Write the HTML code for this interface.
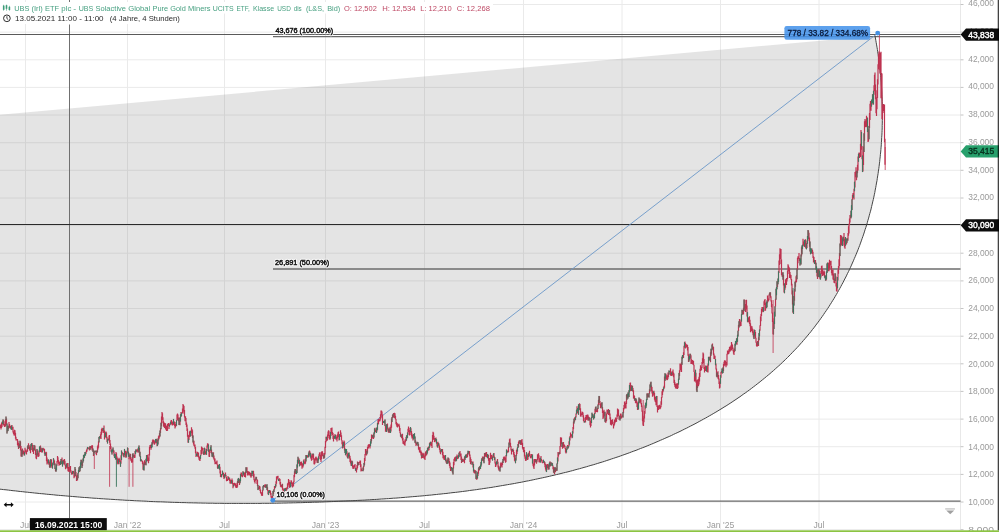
<!DOCTYPE html>
<html><head><meta charset="utf-8"><title>Chart</title>
<style>html,body{margin:0;padding:0;background:#fff;overflow:hidden}svg{display:block;will-change:transform;opacity:0.999;filter:blur(0.25px)}</style></head>
<body>
<svg width="999" height="532" viewBox="0 0 999 532" font-family="'Liberation Sans', sans-serif">
<rect width="999" height="532" fill="#fff"/>
<path d="M25.5 0V530M127.5 0V530M224.5 0V530M325.5 0V530M424.5 0V530M523.5 0V530M622.0 0V530M720.5 0V530M819.0 0V530M0 529.6H960.5M0 502.0H960.5M0 474.4H960.5M0 446.7H960.5M0 419.1H960.5M0 391.4H960.5M0 363.8H960.5M0 336.2H960.5M0 308.5H960.5M0 280.9H960.5M0 253.2H960.5M0 225.6H960.5M0 198.0H960.5M0 170.3H960.5M0 142.7H960.5M0 115.0H960.5M0 87.4H960.5M0 59.8H960.5M0 32.1H960.5M0 4.5H960.5" stroke="#eaeaea" stroke-width="1" fill="none"/>
<path d="M960.5 0V530" stroke="#e8e8e8" stroke-width="1" fill="none"/>
<path d="M960.5 529.6h3M960.5 502.0h3M960.5 474.4h3M960.5 446.7h3M960.5 419.1h3M960.5 391.4h3M960.5 363.8h3M960.5 336.2h3M960.5 308.5h3M960.5 280.9h3M960.5 253.2h3M960.5 225.6h3M960.5 198.0h3M960.5 170.3h3M960.5 142.7h3M960.5 115.0h3M960.5 87.4h3M960.5 59.8h3M960.5 32.1h3M960.5 4.5h3" stroke="#c4c4c4" stroke-width="1" fill="none"/>
<path d="M-20.3 486.6L-17.9 486.9L-15.5 487.2L-13.1 487.5L-10.7 487.8L-8.3 488.1L-6.0 488.4L-3.6 488.7L-1.2 489.0L1.2 489.3L3.6 489.6L6.0 489.8L8.4 490.1L10.7 490.4L13.1 490.7L15.5 490.9L17.9 491.2L20.3 491.5L22.7 491.7L25.0 492.0L27.4 492.2L29.8 492.5L32.2 492.7L34.6 493.0L37.0 493.2L39.3 493.5L41.7 493.7L44.1 493.9L46.5 494.2L48.8 494.4L51.2 494.6L53.6 494.8L56.0 495.1L58.4 495.3L60.7 495.5L63.1 495.7L65.5 495.9L67.9 496.1L70.2 496.3L72.6 496.5L75.0 496.7L77.4 496.9L79.7 497.1L82.1 497.3L84.5 497.5L86.9 497.6L89.2 497.8L91.6 498.0L94.0 498.2L96.4 498.3L98.7 498.5L101.1 498.7L103.5 498.8L105.9 499.0L108.2 499.1L110.6 499.3L113.0 499.4L115.3 499.6L117.7 499.7L120.1 499.9L122.5 500.0L124.8 500.2L127.2 500.3L129.6 500.4L132.0 500.5L134.3 500.7L136.7 500.8L139.1 500.9L141.4 501.0L143.8 501.1L146.2 501.2L148.5 501.4L150.9 501.5L153.3 501.6L155.7 501.7L158.0 501.8L160.4 501.8L162.8 501.9L165.1 502.0L167.5 502.1L169.9 502.2L172.3 502.3L174.6 502.4L177.0 502.4L179.4 502.5L181.7 502.6L184.1 502.6L186.5 502.7L188.8 502.8L191.2 502.8L193.6 502.9L196.0 502.9L198.3 503.0L200.7 503.0L203.1 503.1L205.4 503.1L207.8 503.2L210.2 503.2L212.6 503.2L214.9 503.3L217.3 503.3L219.7 503.3L222.0 503.3L224.4 503.4L226.8 503.4L229.2 503.4L231.5 503.4L233.9 503.4L236.3 503.4L238.6 503.4L241.0 503.4L243.4 503.4L245.8 503.4L248.1 503.4L250.5 503.4L252.9 503.4L255.3 503.4L257.6 503.4L260.0 503.4L262.4 503.3L264.7 503.3L267.1 503.3L269.5 503.3L271.9 503.2L274.2 503.2L276.6 503.2L279.0 503.1L281.4 503.1L283.8 503.0L286.1 503.0L288.5 502.9L290.9 502.9L293.3 502.8L295.6 502.8L298.0 502.7L300.4 502.7L302.8 502.6L305.2 502.5L307.5 502.5L309.9 502.4L312.3 502.3L314.7 502.2L317.1 502.2L319.4 502.1L321.8 502.0L324.2 501.9L326.6 501.8L329.0 501.7L331.4 501.6L333.7 501.5L336.1 501.4L338.5 501.3L340.9 501.2L343.3 501.1L345.7 501.0L348.1 500.9L350.4 500.8L352.8 500.7L355.2 500.6L357.6 500.4L360.0 500.3L362.4 500.2L364.8 500.1L367.2 499.9L369.5 499.8L371.9 499.6L374.3 499.5L376.7 499.4L379.1 499.2L381.5 499.0L383.9 498.9L386.3 498.7L388.6 498.6L391.0 498.4L393.4 498.2L395.8 498.1L398.2 497.9L400.6 497.7L403.0 497.5L405.4 497.3L407.8 497.1L410.1 496.9L412.5 496.7L414.9 496.5L417.3 496.3L419.7 496.1L422.1 495.9L424.4 495.7L426.8 495.4L429.2 495.2L431.6 495.0L434.0 494.7L436.4 494.5L438.7 494.2L441.1 494.0L443.5 493.7L445.9 493.5L448.3 493.2L450.6 492.9L453.0 492.6L455.4 492.4L457.8 492.1L460.1 491.8L462.5 491.5L464.9 491.2L467.3 490.9L469.6 490.5L472.0 490.2L474.4 489.9L476.7 489.6L479.1 489.2L481.5 488.9L483.8 488.5L486.2 488.2L488.5 487.8L490.9 487.5L493.3 487.1L495.6 486.7L498.0 486.3L500.3 485.9L502.7 485.5L505.0 485.1L507.4 484.7L509.7 484.3L512.1 483.9L514.4 483.5L516.8 483.0L519.1 482.6L521.5 482.2L523.8 481.7L526.1 481.2L528.5 480.8L530.8 480.3L533.2 479.8L535.5 479.3L537.8 478.8L540.2 478.3L542.5 477.8L544.8 477.3L547.1 476.8L549.4 476.3L551.8 475.7L554.1 475.2L556.4 474.6L558.7 474.1L561.0 473.5L563.3 472.9L565.6 472.4L568.0 471.8L570.3 471.2L572.6 470.6L574.9 469.9L577.2 469.3L579.5 468.7L581.7 468.1L584.0 467.4L586.3 466.8L588.6 466.1L590.9 465.4L593.2 464.8L595.5 464.1L597.7 463.4L600.0 462.7L602.3 462.0L604.6 461.3L606.8 460.5L609.1 459.8L611.3 459.0L613.6 458.3L615.9 457.5L618.1 456.8L620.4 456.0L622.6 455.2L624.9 454.4L627.1 453.6L629.3 452.8L631.6 451.9L633.8 451.1L636.1 450.3L638.3 449.4L640.5 448.5L642.7 447.7L645.0 446.8L647.2 445.9L649.4 445.0L651.6 444.1L653.8 443.2L656.0 442.2L658.2 441.3L660.4 440.3L662.6 439.4L664.8 438.4L667.0 437.4L669.2 436.5L671.4 435.5L673.5 434.4L675.7 433.4L677.9 432.4L680.0 431.4L682.2 430.3L684.3 429.2L686.5 428.2L688.6 427.1L690.7 426.0L692.9 424.9L695.0 423.8L697.1 422.7L699.2 421.5L701.3 420.4L703.4 419.2L705.5 418.1L707.6 416.9L709.7 415.7L711.8 414.5L713.8 413.3L715.9 412.1L717.9 410.9L720.0 409.6L722.0 408.4L724.0 407.1L726.1 405.9L728.1 404.6L730.1 403.3L732.1 402.0L734.0 400.7L736.0 399.4L738.0 398.0L740.0 396.7L741.9 395.3L743.8 393.9L745.8 392.6L747.7 391.2L749.6 389.8L751.5 388.4L753.4 386.9L755.3 385.5L757.2 384.0L759.0 382.6L760.9 381.1L762.7 379.6L764.6 378.1L766.4 376.6L768.2 375.1L770.0 373.6L771.8 372.0L773.6 370.5L775.3 368.9L777.1 367.3L778.8 365.8L780.6 364.2L782.3 362.5L784.0 360.9L785.7 359.3L787.4 357.6L789.0 356.0L790.7 354.3L792.3 352.6L793.9 350.9L795.6 349.2L797.2 347.5L798.8 345.8L800.3 344.0L801.9 342.3L803.4 340.5L805.0 338.7L806.5 336.9L808.0 335.1L809.5 333.3L811.0 331.5L812.4 329.6L813.9 327.8L815.3 325.9L816.7 324.0L818.1 322.2L819.5 320.3L820.9 318.3L822.3 316.4L823.6 314.5L824.9 312.5L826.3 310.6L827.6 308.6L828.9 306.7L830.1 304.7L831.4 302.7L832.6 300.7L833.9 298.7L835.1 296.6L836.3 294.6L837.5 292.5L838.6 290.5L839.8 288.4L840.9 286.4L842.0 284.3L843.2 282.2L844.2 280.1L845.3 278.0L846.4 275.9L847.4 273.7L848.5 271.6L849.5 269.4L850.5 267.3L851.5 265.1L852.4 263.0L853.4 260.8L854.3 258.6L855.3 256.4L856.2 254.2L857.1 252.0L858.0 249.8L858.8 247.6L859.7 245.4L860.5 243.1L861.3 240.9L862.1 238.6L862.9 236.4L863.7 234.1L864.4 231.9L865.1 229.6L865.9 227.3L866.6 225.0L867.3 222.7L867.9 220.4L868.6 218.1L869.2 215.8L869.8 213.5L870.5 211.2L871.1 208.9L871.6 206.5L872.2 204.2L872.7 201.9L873.3 199.5L873.8 197.2L874.3 194.8L874.8 192.5L875.2 190.1L875.7 187.7L876.1 185.4L876.5 183.0L877.0 180.6L877.3 178.3L877.7 175.9L878.1 173.5L878.4 171.1L878.8 168.7L879.1 166.3L879.4 163.9L879.7 161.6L879.9 159.2L880.2 156.8L880.4 154.4L880.7 152.0L880.9 149.6L881.1 147.2L881.3 144.8L881.4 142.4L881.6 140.0L881.7 137.5L881.9 135.1L882.0 132.7L882.1 130.3L882.2 127.9L882.2 125.5L882.3 123.1L882.3 120.7L882.4 118.3L882.4 115.9L882.4 113.5L882.4 111.1L882.4 108.7L882.3 106.3L882.3 103.9L882.2 101.5L882.1 99.1L882.0 96.7L881.9 94.3L881.8 91.9L881.7 89.6L881.5 87.2L881.3 84.8L881.2 82.4L881.0 80.0L880.8 77.7L880.6 75.3L880.3 72.9L880.1 70.6L879.9 68.2L879.6 65.9L879.3 63.5L879.0 61.2L878.7 58.8L878.4 56.5L878.1 54.2L877.7 51.8L877.4 49.5L877.0 47.2L876.6 44.9L876.2 42.6L875.8 40.3L875.4 38.0L875.0 35.7L876.0 35.7L-20.0 116.6Z" fill="#6e6e6e" fill-opacity="0.19" stroke="none"/>
<rect x="0" y="2" width="493" height="11.5" fill="#fff"/>
<rect x="0" y="13" width="183" height="11" fill="#fff"/>
<path d="M69.5 24.5V518" stroke="#707070" stroke-width="1" fill="none"/>
<path d="M69.5 0V2" stroke="#707070" stroke-width="1" fill="none"/>
<path d="M0 34.5H960.5" stroke="#474747" stroke-width="0.9" fill="none"/>
<path d="M273 36.7H960.5" stroke="#686868" stroke-width="1.3" fill="none"/>
<path d="M0 224.5H960.5" stroke="#2a2a2a" stroke-width="1.0" fill="none"/>
<path d="M273 269.0H960.5" stroke="#6c6c6c" stroke-width="1.3" fill="none"/>
<path d="M273 501.2H960.5" stroke="#686868" stroke-width="1.3" fill="none"/>
<path d="M-20.3 486.6L-17.9 486.9L-15.5 487.2L-13.1 487.5L-10.7 487.8L-8.3 488.1L-6.0 488.4L-3.6 488.7L-1.2 489.0L1.2 489.3L3.6 489.6L6.0 489.8L8.4 490.1L10.7 490.4L13.1 490.7L15.5 490.9L17.9 491.2L20.3 491.5L22.7 491.7L25.0 492.0L27.4 492.2L29.8 492.5L32.2 492.7L34.6 493.0L37.0 493.2L39.3 493.5L41.7 493.7L44.1 493.9L46.5 494.2L48.8 494.4L51.2 494.6L53.6 494.8L56.0 495.1L58.4 495.3L60.7 495.5L63.1 495.7L65.5 495.9L67.9 496.1L70.2 496.3L72.6 496.5L75.0 496.7L77.4 496.9L79.7 497.1L82.1 497.3L84.5 497.5L86.9 497.6L89.2 497.8L91.6 498.0L94.0 498.2L96.4 498.3L98.7 498.5L101.1 498.7L103.5 498.8L105.9 499.0L108.2 499.1L110.6 499.3L113.0 499.4L115.3 499.6L117.7 499.7L120.1 499.9L122.5 500.0L124.8 500.2L127.2 500.3L129.6 500.4L132.0 500.5L134.3 500.7L136.7 500.8L139.1 500.9L141.4 501.0L143.8 501.1L146.2 501.2L148.5 501.4L150.9 501.5L153.3 501.6L155.7 501.7L158.0 501.8L160.4 501.8L162.8 501.9L165.1 502.0L167.5 502.1L169.9 502.2L172.3 502.3L174.6 502.4L177.0 502.4L179.4 502.5L181.7 502.6L184.1 502.6L186.5 502.7L188.8 502.8L191.2 502.8L193.6 502.9L196.0 502.9L198.3 503.0L200.7 503.0L203.1 503.1L205.4 503.1L207.8 503.2L210.2 503.2L212.6 503.2L214.9 503.3L217.3 503.3L219.7 503.3L222.0 503.3L224.4 503.4L226.8 503.4L229.2 503.4L231.5 503.4L233.9 503.4L236.3 503.4L238.6 503.4L241.0 503.4L243.4 503.4L245.8 503.4L248.1 503.4L250.5 503.4L252.9 503.4L255.3 503.4L257.6 503.4L260.0 503.4L262.4 503.3L264.7 503.3L267.1 503.3L269.5 503.3L271.9 503.2L274.2 503.2L276.6 503.2L279.0 503.1L281.4 503.1L283.8 503.0L286.1 503.0L288.5 502.9L290.9 502.9L293.3 502.8L295.6 502.8L298.0 502.7L300.4 502.7L302.8 502.6L305.2 502.5L307.5 502.5L309.9 502.4L312.3 502.3L314.7 502.2L317.1 502.2L319.4 502.1L321.8 502.0L324.2 501.9L326.6 501.8L329.0 501.7L331.4 501.6L333.7 501.5L336.1 501.4L338.5 501.3L340.9 501.2L343.3 501.1L345.7 501.0L348.1 500.9L350.4 500.8L352.8 500.7L355.2 500.6L357.6 500.4L360.0 500.3L362.4 500.2L364.8 500.1L367.2 499.9L369.5 499.8L371.9 499.6L374.3 499.5L376.7 499.4L379.1 499.2L381.5 499.0L383.9 498.9L386.3 498.7L388.6 498.6L391.0 498.4L393.4 498.2L395.8 498.1L398.2 497.9L400.6 497.7L403.0 497.5L405.4 497.3L407.8 497.1L410.1 496.9L412.5 496.7L414.9 496.5L417.3 496.3L419.7 496.1L422.1 495.9L424.4 495.7L426.8 495.4L429.2 495.2L431.6 495.0L434.0 494.7L436.4 494.5L438.7 494.2L441.1 494.0L443.5 493.7L445.9 493.5L448.3 493.2L450.6 492.9L453.0 492.6L455.4 492.4L457.8 492.1L460.1 491.8L462.5 491.5L464.9 491.2L467.3 490.9L469.6 490.5L472.0 490.2L474.4 489.9L476.7 489.6L479.1 489.2L481.5 488.9L483.8 488.5L486.2 488.2L488.5 487.8L490.9 487.5L493.3 487.1L495.6 486.7L498.0 486.3L500.3 485.9L502.7 485.5L505.0 485.1L507.4 484.7L509.7 484.3L512.1 483.9L514.4 483.5L516.8 483.0L519.1 482.6L521.5 482.2L523.8 481.7L526.1 481.2L528.5 480.8L530.8 480.3L533.2 479.8L535.5 479.3L537.8 478.8L540.2 478.3L542.5 477.8L544.8 477.3L547.1 476.8L549.4 476.3L551.8 475.7L554.1 475.2L556.4 474.6L558.7 474.1L561.0 473.5L563.3 472.9L565.6 472.4L568.0 471.8L570.3 471.2L572.6 470.6L574.9 469.9L577.2 469.3L579.5 468.7L581.7 468.1L584.0 467.4L586.3 466.8L588.6 466.1L590.9 465.4L593.2 464.8L595.5 464.1L597.7 463.4L600.0 462.7L602.3 462.0L604.6 461.3L606.8 460.5L609.1 459.8L611.3 459.0L613.6 458.3L615.9 457.5L618.1 456.8L620.4 456.0L622.6 455.2L624.9 454.4L627.1 453.6L629.3 452.8L631.6 451.9L633.8 451.1L636.1 450.3L638.3 449.4L640.5 448.5L642.7 447.7L645.0 446.8L647.2 445.9L649.4 445.0L651.6 444.1L653.8 443.2L656.0 442.2L658.2 441.3L660.4 440.3L662.6 439.4L664.8 438.4L667.0 437.4L669.2 436.5L671.4 435.5L673.5 434.4L675.7 433.4L677.9 432.4L680.0 431.4L682.2 430.3L684.3 429.2L686.5 428.2L688.6 427.1L690.7 426.0L692.9 424.9L695.0 423.8L697.1 422.7L699.2 421.5L701.3 420.4L703.4 419.2L705.5 418.1L707.6 416.9L709.7 415.7L711.8 414.5L713.8 413.3L715.9 412.1L717.9 410.9L720.0 409.6L722.0 408.4L724.0 407.1L726.1 405.9L728.1 404.6L730.1 403.3L732.1 402.0L734.0 400.7L736.0 399.4L738.0 398.0L740.0 396.7L741.9 395.3L743.8 393.9L745.8 392.6L747.7 391.2L749.6 389.8L751.5 388.4L753.4 386.9L755.3 385.5L757.2 384.0L759.0 382.6L760.9 381.1L762.7 379.6L764.6 378.1L766.4 376.6L768.2 375.1L770.0 373.6L771.8 372.0L773.6 370.5L775.3 368.9L777.1 367.3L778.8 365.8L780.6 364.2L782.3 362.5L784.0 360.9L785.7 359.3L787.4 357.6L789.0 356.0L790.7 354.3L792.3 352.6L793.9 350.9L795.6 349.2L797.2 347.5L798.8 345.8L800.3 344.0L801.9 342.3L803.4 340.5L805.0 338.7L806.5 336.9L808.0 335.1L809.5 333.3L811.0 331.5L812.4 329.6L813.9 327.8L815.3 325.9L816.7 324.0L818.1 322.2L819.5 320.3L820.9 318.3L822.3 316.4L823.6 314.5L824.9 312.5L826.3 310.6L827.6 308.6L828.9 306.7L830.1 304.7L831.4 302.7L832.6 300.7L833.9 298.7L835.1 296.6L836.3 294.6L837.5 292.5L838.6 290.5L839.8 288.4L840.9 286.4L842.0 284.3L843.2 282.2L844.2 280.1L845.3 278.0L846.4 275.9L847.4 273.7L848.5 271.6L849.5 269.4L850.5 267.3L851.5 265.1L852.4 263.0L853.4 260.8L854.3 258.6L855.3 256.4L856.2 254.2L857.1 252.0L858.0 249.8L858.8 247.6L859.7 245.4L860.5 243.1L861.3 240.9L862.1 238.6L862.9 236.4L863.7 234.1L864.4 231.9L865.1 229.6L865.9 227.3L866.6 225.0L867.3 222.7L867.9 220.4L868.6 218.1L869.2 215.8L869.8 213.5L870.5 211.2L871.1 208.9L871.6 206.5L872.2 204.2L872.7 201.9L873.3 199.5L873.8 197.2L874.3 194.8L874.8 192.5L875.2 190.1L875.7 187.7L876.1 185.4L876.5 183.0L877.0 180.6L877.3 178.3L877.7 175.9L878.1 173.5L878.4 171.1L878.8 168.7L879.1 166.3L879.4 163.9L879.7 161.6L879.9 159.2L880.2 156.8L880.4 154.4L880.7 152.0L880.9 149.6L881.1 147.2L881.3 144.8L881.4 142.4L881.6 140.0L881.7 137.5L881.9 135.1L882.0 132.7L882.1 130.3L882.2 127.9L882.2 125.5L882.3 123.1L882.3 120.7L882.4 118.3L882.4 115.9L882.4 113.5L882.4 111.1L882.4 108.7L882.3 106.3L882.3 103.9L882.2 101.5L882.1 99.1L882.0 96.7L881.9 94.3L881.8 91.9L881.7 89.6L881.5 87.2L881.3 84.8L881.2 82.4L881.0 80.0L880.8 77.7L880.6 75.3L880.3 72.9L880.1 70.6L879.9 68.2L879.6 65.9L879.3 63.5L879.0 61.2L878.7 58.8L878.4 56.5L878.1 54.2L877.7 51.8L877.4 49.5L877.0 47.2L876.6 44.9L876.2 42.6L875.8 40.3L875.4 38.0L875.0 35.7" stroke="#454545" stroke-width="1.0" fill="none" stroke-linejoin="round"/>
<path d="M272.8 500.3L877.7 33.2" stroke="#6b97c8" stroke-width="0.9" fill="none"/>
<path d="M0.5 424.5V428.1M1.0 426.2V429.6M1.5 422.8V428.1M2.0 421.7V427.0M3.5 419.7V425.5M4.0 421.2V425.0M4.5 423.9V427.0M5.0 424.5V426.9M5.5 419.3V426.0M6.5 418.5V425.1M7.5 427.1V431.4M8.5 426.1V429.2M9.0 422.0V427.8M9.5 424.0V426.6M10.0 425.4V428.2M10.5 425.9V428.1M12.0 425.1V428.9M12.5 426.7V429.7M13.0 426.7V432.4M13.5 431.2V434.0M14.0 431.3V435.4M14.5 429.7V432.1M15.0 430.2V435.8M15.5 432.8V438.7M16.0 436.8V440.5M16.5 439.6V440.5M17.0 438.9V440.1M17.5 439.0V445.0M18.0 440.8V446.5M18.5 442.8V448.9M19.5 443.8V447.4M20.5 441.6V450.4M21.0 445.9V456.5M21.5 453.2V456.8M22.5 448.6V454.6M23.0 450.0V451.7M23.5 451.1V454.1M24.0 451.6V455.6M25.0 447.8V453.8M25.5 449.8V452.2M26.0 449.4V451.7M26.5 450.7V454.5M27.0 451.2V451.9M27.5 446.2V451.6M28.5 443.3V446.0M29.0 445.0V448.7M29.5 446.6V450.4M30.0 448.4V450.8M30.5 445.6V453.2M32.0 442.9V446.1M32.5 444.8V451.4M33.0 447.8V451.9M33.5 448.8V454.1M34.5 445.8V447.7M35.0 445.5V450.6M35.5 449.6V455.1M36.0 453.2V458.6M36.5 453.8V459.3M37.5 450.4V453.9M38.0 452.7V457.1M38.5 453.2V456.7M39.0 450.6V456.2M40.5 445.6V452.1M41.0 447.6V450.9M41.5 448.3V452.6M42.0 449.4V452.6M43.0 447.7V450.3M43.5 448.2V450.3M44.0 448.7V450.8M44.5 448.7V453.7M46.0 451.7V455.8M46.5 452.3V461.2M47.0 457.5V464.6M47.5 460.6V463.0M48.0 459.4V463.4M49.0 460.2V464.9M49.5 461.8V467.2M51.0 461.3V462.2M51.5 459.3V466.6M52.0 464.2V468.1M54.0 459.4V463.1M54.5 460.6V465.0M55.5 467.5V471.3M57.0 460.9V465.7M57.5 456.1V462.2M58.0 457.3V462.1M58.5 460.1V463.7M59.0 461.6V465.7M59.5 461.8V464.9M60.0 462.1V465.0M61.5 458.9V460.6M62.0 457.5V464.1M63.5 459.7V463.6M64.0 460.5V461.8M64.5 459.0V464.6M65.0 460.7V465.6M65.5 464.7V469.3M66.0 466.5V467.1M67.0 463.8V468.6M67.5 463.1V466.0M68.0 463.1V471.3M68.5 468.8V471.8M69.0 467.1V471.7M69.5 467.5V472.0M70.0 466.7V469.9M70.5 465.9V471.6M71.0 470.2V473.1M71.5 472.3V474.4M72.0 472.9V474.8M73.0 470.8V473.6M73.5 471.0V473.3M74.0 472.5V478.2M74.5 474.0V477.3M75.5 468.9V474.3M76.0 471.9V476.4M76.5 475.5V481.1M77.5 474.5V480.6M79.5 468.4V472.1M81.5 459.7V465.3M82.5 462.2V465.9M84.0 454.8V458.2M86.0 451.5V453.9M86.5 449.7V452.3M87.0 448.4V451.5M88.0 447.5V448.4M88.5 447.8V448.7M89.0 447.3V449.6M89.5 448.4V450.4M90.5 446.9V448.7M91.0 446.1V447.6M91.5 445.9V448.3M92.0 445.1V450.5M92.5 445.4V450.2M93.5 450.3V455.9M94.5 451.3V452.7M95.5 450.9V451.5M96.0 450.8V454.2M96.5 450.4V455.2M97.5 446.3V452.2M98.0 444.7V449.6M98.5 441.3V447.7M100.0 436.4V438.4M100.5 434.2V437.7M101.0 431.8V438.9M101.5 429.0V434.8M102.0 427.7V430.1M102.5 428.6V431.1M103.0 428.2V432.7M104.0 425.4V433.1M104.5 430.6V439.4M106.0 431.4V435.7M106.5 432.6V438.3M107.0 436.8V442.1M108.5 438.4V440.6M109.0 435.6V438.9M109.5 434.9V442.8M110.0 440.1V445.0M110.5 443.6V448.9M111.0 446.3V451.7M113.5 449.7V452.8M114.0 450.4V456.2M115.0 456.6V457.8M116.0 452.1V454.9M116.5 453.2V458.3M117.0 456.6V459.3M117.5 458.3V463.8M118.0 459.1V464.6M119.0 457.7V462.1M119.5 458.7V461.3M120.0 460.4V464.3M121.0 455.3V463.8M122.0 451.7V453.7M122.5 452.5V453.8M123.0 453.0V455.4M123.5 454.6V456.5M125.0 451.4V452.6M125.5 450.7V456.7M126.0 452.2V457.9M127.0 450.7V454.4M128.0 448.1V452.5M129.0 453.0V459.3M129.5 454.8V457.8M130.5 453.8V459.4M131.0 457.2V460.9M131.5 460.4V462.3M132.0 459.1V462.9M132.5 454.1V461.9M133.5 454.9V457.1M134.0 454.8V456.4M134.5 454.9V458.0M135.0 450.9V457.8M136.5 450.1V451.0M137.0 449.9V451.6M137.5 449.3V451.7M138.0 448.2V452.8M139.5 448.0V455.7M141.0 458.9V461.0M142.0 460.2V462.0M142.5 460.9V464.2M143.0 461.7V469.7M144.5 460.3V464.9M145.0 461.9V464.7M145.5 462.3V464.4M147.0 454.9V459.7M147.5 454.7V461.3M148.0 458.3V460.8M148.5 457.6V463.3M149.0 454.0V461.0M149.5 446.8V455.5M150.0 445.1V447.9M150.5 445.7V448.1M151.0 444.5V449.7M152.5 440.2V444.6M153.0 439.3V442.3M153.5 441.1V442.7M154.0 439.9V444.2M154.5 443.3V444.8M155.0 441.3V443.7M156.5 438.8V443.3M157.0 440.1V446.2M158.5 436.2V440.6M159.0 435.3V439.3M159.5 432.9V437.5M160.5 428.1V433.1M161.5 416.5V426.3M162.0 411.9V419.9M162.5 413.2V417.4M163.0 417.2V423.2M163.5 421.3V426.8M164.0 422.3V426.4M164.5 423.9V428.0M165.0 422.9V426.8M165.5 423.5V429.0M166.0 425.9V430.0M166.5 426.8V430.9M167.0 425.2V431.0M167.5 423.8V430.8M168.0 423.8V425.8M168.5 423.1V426.0M169.0 425.2V429.0M170.0 423.3V425.3M171.0 420.3V423.0M171.5 420.0V424.1M172.0 421.3V425.3M172.5 421.9V425.5M173.0 422.2V424.7M174.0 420.9V425.0M174.5 422.2V426.1M175.0 422.0V428.6M175.5 423.9V427.2M176.0 424.5V426.3M177.0 414.5V420.5M177.5 413.4V417.3M178.0 414.4V420.5M178.5 417.5V421.3M179.5 422.7V423.6M180.0 417.1V425.2M181.0 412.0V416.7M182.0 412.7V413.9M182.5 408.4V413.0M183.0 404.0V411.4M183.5 405.1V408.6M184.0 406.1V413.7M184.5 409.9V417.6M185.0 416.7V421.3M185.5 416.2V421.3M186.0 418.1V425.0M186.5 422.6V427.1M187.0 424.6V430.9M187.5 428.5V436.7M188.0 435.3V442.8M189.0 434.8V440.0M189.5 431.5V436.9M190.0 430.7V434.2M191.0 432.9V436.1M191.5 427.3V433.1M192.0 429.0V433.2M192.5 430.3V437.9M193.5 440.5V444.6M194.0 440.8V446.1M194.5 444.4V446.8M195.0 444.6V448.7M195.5 447.0V453.2M196.0 451.6V457.0M197.5 451.7V456.7M198.0 453.8V456.0M198.5 452.6V457.6M199.0 456.2V459.7M199.5 456.8V460.5M200.0 457.6V460.9M201.0 450.1V455.6M201.5 446.4V454.0M202.0 447.2V449.0M202.5 447.8V450.5M203.0 448.0V453.7M203.5 451.8V454.8M205.0 448.5V454.3M205.5 451.2V454.4M206.0 453.2V454.7M207.0 445.5V451.1M207.5 443.2V447.6M208.0 443.6V445.6M209.0 450.1V456.8M209.5 450.6V457.0M210.0 449.0V453.1M211.5 449.4V453.7M212.5 455.0V456.6M213.5 452.2V458.6M214.0 455.6V459.8M214.5 458.3V461.6M215.0 458.4V464.3M215.5 462.0V463.5M216.0 461.7V464.0M216.5 461.6V462.6M217.0 460.5V464.8M217.5 464.4V468.2M219.0 464.4V466.9M220.0 466.8V473.5M220.5 470.5V477.0M221.0 474.3V477.2M222.0 474.0V475.4M223.0 472.4V474.7M223.5 472.7V477.3M224.0 475.9V479.1M225.5 472.6V476.2M226.0 474.9V477.6M226.5 477.1V481.3M227.0 478.7V480.7M227.5 478.7V480.9M228.0 476.0V479.9M229.0 477.5V479.8M229.5 477.4V481.1M230.0 478.7V483.4M230.5 481.0V483.8M231.0 480.1V483.3M232.0 478.5V481.1M232.5 480.2V484.3M233.0 483.3V488.2M234.0 483.1V485.1M234.5 482.7V484.4M235.0 483.0V486.1M235.5 483.7V486.7M236.0 485.6V488.0M236.5 484.9V487.5M237.0 482.7V488.1M237.5 481.0V486.7M239.0 479.2V483.0M239.5 481.7V485.0M241.0 472.6V476.3M241.5 472.5V475.4M242.0 474.7V476.7M242.5 474.7V477.2M244.0 472.2V475.5M244.5 472.6V477.0M245.0 474.0V476.8M245.5 471.6V477.6M246.5 467.5V470.6M247.0 467.2V471.7M247.5 471.0V475.6M248.0 472.4V475.5M248.5 471.2V474.2M249.0 471.7V474.7M249.5 471.7V475.2M250.0 472.5V475.6M250.5 473.2V476.5M251.0 473.1V477.7M251.5 473.5V476.6M253.0 471.1V472.6M253.5 470.8V477.5M254.0 473.8V480.2M254.5 479.3V482.1M255.0 480.3V483.6M255.5 478.5V480.7M256.5 477.0V479.2M257.0 479.1V484.0M257.5 480.1V486.3M258.5 487.3V488.0M259.0 487.9V489.2M259.5 485.8V489.1M260.0 486.6V491.1M260.5 489.5V492.9M261.0 491.9V494.1M261.5 493.2V495.4M262.0 492.6V495.9M262.5 489.9V495.8M264.0 485.2V487.3M264.5 485.6V486.9M265.0 484.2V487.6M265.5 484.2V487.4M266.5 485.0V486.3M267.5 487.3V490.7M268.0 490.2V494.3M269.0 490.1V493.1M270.0 490.3V493.2M270.5 490.8V494.7M271.0 492.9V497.6M271.5 496.3V498.8M272.0 496.8V497.8M272.5 496.1V498.5M273.5 490.2V494.1M274.5 486.0V489.5M275.0 486.5V488.3M276.0 481.3V486.5M276.5 476.5V483.7M277.0 476.2V478.5M277.5 476.0V478.5M278.0 475.8V479.8M279.0 479.0V480.8M279.5 478.2V480.9M280.0 479.1V484.4M280.5 482.0V486.7M281.0 484.9V487.3M281.5 485.0V487.4M282.5 483.7V489.7M283.0 488.0V493.0M283.5 489.3V492.5M284.0 490.4V492.8M285.0 488.1V490.9M286.0 487.7V489.9M286.5 488.3V490.8M287.0 487.3V489.3M287.5 483.5V488.6M288.0 482.8V486.7M288.5 478.9V483.3M289.0 480.1V484.7M289.5 481.9V487.8M290.0 485.6V486.5M291.0 480.3V484.2M291.5 480.5V483.0M292.0 482.0V486.2M292.5 482.9V487.6M293.0 485.2V486.2M293.5 481.5V486.5M294.0 475.0V482.5M294.5 471.3V477.3M295.5 468.9V473.7M296.0 471.9V474.0M298.5 458.2V463.2M299.0 458.4V463.9M300.0 461.8V465.8M300.5 462.6V465.2M301.0 462.1V463.9M301.5 461.4V465.6M302.0 463.2V468.7M302.5 466.0V467.0M303.0 463.3V467.4M304.0 459.2V462.9M304.5 461.5V463.7M305.0 462.1V464.2M305.5 458.6V463.5M307.0 455.0V457.0M307.5 455.5V457.6M308.0 455.5V457.8M309.5 450.4V454.7M310.0 451.4V455.1M311.0 453.4V459.3M311.5 457.5V460.7M312.0 455.6V459.9M312.5 454.1V457.7M313.5 453.7V459.4M314.0 458.2V464.2M314.5 458.6V464.4M315.0 458.9V463.6M315.5 457.2V460.4M316.0 456.4V459.9M316.5 457.6V460.6M317.0 457.7V462.7M317.5 460.8V462.9M319.0 454.2V459.0M319.5 452.5V456.2M320.0 452.3V455.3M320.5 454.8V460.1M321.0 455.9V462.0M321.5 452.1V459.3M322.0 450.9V456.4M322.5 451.5V456.0M323.0 453.0V455.9M323.5 455.2V458.8M324.5 453.0V457.7M325.0 446.7V454.6M325.5 441.0V447.9M326.0 436.7V442.3M327.0 437.1V441.1M327.5 434.4V440.1M328.0 431.5V435.9M328.5 430.2V432.2M329.0 430.7V438.2M329.5 434.9V439.4M330.0 435.7V439.7M331.0 428.1V436.0M331.5 430.1V431.3M332.0 427.5V433.7M332.5 432.1V434.9M333.0 433.0V439.1M333.5 436.3V441.5M334.0 435.5V438.8M335.0 434.1V437.8M336.0 435.3V439.8M336.5 438.5V439.5M337.0 436.7V441.5M337.5 434.2V438.5M338.0 432.3V437.0M338.5 431.5V437.1M339.0 435.4V440.6M340.0 434.2V436.8M340.5 430.3V435.3M341.0 432.5V437.1M341.5 435.2V440.4M342.0 439.9V444.2M342.5 441.4V448.6M344.0 440.4V445.0M344.5 441.4V450.6M347.0 451.2V456.7M347.5 453.6V458.1M349.5 454.8V458.4M350.0 456.1V462.0M350.5 458.5V463.5M351.0 460.5V465.7M352.5 461.6V467.4M353.0 465.4V468.9M353.5 466.6V468.7M354.0 465.2V467.2M354.5 465.1V466.6M355.0 464.0V468.8M356.0 467.8V470.3M356.5 468.3V472.5M357.0 465.0V469.8M357.5 461.5V468.2M358.5 462.9V464.5M359.0 462.0V465.0M359.5 461.8V463.1M360.0 460.5V463.1M360.5 460.6V467.0M361.0 464.2V471.6M361.5 468.6V471.1M362.0 469.9V470.9M362.5 470.3V470.7M363.5 466.1V470.2M364.5 457.9V464.9M365.0 453.9V461.1M365.5 448.9V455.3M366.0 449.0V452.7M366.5 450.9V455.6M367.5 447.0V452.8M368.0 445.2V448.7M368.5 444.3V448.2M369.0 444.5V446.9M369.5 444.3V446.5M370.0 444.1V448.4M371.5 434.5V441.2M372.0 435.5V438.4M373.0 434.8V438.4M373.5 434.2V439.0M375.0 427.8V432.1M375.5 429.4V432.2M376.0 430.8V432.1M377.0 427.4V431.4M378.0 419.4V424.8M378.5 419.1V424.0M379.0 419.8V420.7M379.5 419.2V421.6M380.0 417.1V421.3M380.5 414.3V419.6M381.0 410.4V415.5M381.5 410.4V412.9M382.0 411.5V418.2M382.5 414.4V424.9M383.0 422.0V422.8M384.5 420.4V423.5M385.5 425.2V431.7M386.0 428.8V431.6M387.5 423.5V429.6M388.0 427.5V431.6M388.5 430.8V432.8M389.5 428.3V432.5M390.0 426.8V433.0M391.0 424.6V431.4M391.5 418.5V427.8M392.5 415.1V417.9M393.5 412.9V415.1M394.0 414.4V418.0M394.5 412.7V418.2M395.0 413.3V416.0M395.5 415.8V419.5M396.0 418.9V424.2M396.5 422.1V425.6M397.0 423.7V427.1M397.5 423.3V427.6M398.0 424.6V426.8M398.5 424.4V426.3M399.0 423.8V426.3M399.5 425.4V431.0M400.0 427.9V433.2M400.5 432.6V436.6M401.5 434.8V438.3M402.0 434.8V437.5M402.5 433.7V440.4M403.0 437.8V443.8M403.5 441.1V444.1M404.0 441.6V444.5M404.5 442.6V445.0M405.0 439.4V445.8M405.5 439.3V442.3M406.0 437.1V441.0M407.0 435.1V438.6M408.0 428.8V434.8M408.5 426.5V431.3M409.0 428.0V432.1M409.5 429.9V435.6M410.0 430.8V435.0M411.0 428.2V432.6M411.5 431.1V436.5M412.0 433.4V438.4M412.5 436.1V438.1M413.0 434.9V440.5M414.0 435.2V436.6M415.5 440.3V443.6M416.0 443.0V446.1M416.5 443.4V444.9M417.5 441.9V444.3M418.5 444.1V449.5M419.0 447.3V450.3M419.5 449.2V452.5M420.0 447.1V452.0M420.5 450.8V453.3M421.0 450.4V455.5M421.5 452.0V458.4M422.5 453.5V457.9M423.0 452.7V456.1M423.5 453.6V457.8M424.0 455.5V458.6M424.5 457.4V458.9M425.0 453.3V460.1M425.5 452.1V456.5M426.0 450.9V454.3M426.5 451.9V455.4M428.0 446.9V451.1M429.0 446.1V450.3M430.0 442.3V446.5M431.0 442.7V444.9M431.5 442.2V446.1M432.0 441.6V448.1M432.5 434.9V442.1M433.0 431.7V439.9M433.5 432.4V438.2M434.0 435.7V439.6M434.5 438.0V442.1M435.0 439.0V442.2M436.0 437.6V441.1M437.0 442.2V446.6M438.0 441.8V445.7M439.0 443.5V447.8M439.5 445.6V449.7M440.0 448.1V452.5M440.5 450.0V454.3M442.0 449.7V451.6M442.5 449.0V455.3M443.0 451.8V458.2M443.5 455.5V458.5M444.0 454.9V459.7M444.5 456.0V459.9M445.0 456.7V459.3M446.0 458.5V462.5M446.5 460.2V463.6M447.5 459.5V463.3M448.5 458.0V460.8M449.0 458.4V462.4M449.5 461.0V466.0M450.0 462.4V468.3M450.5 466.2V470.9M451.0 467.4V469.8M452.5 471.0V472.8M453.5 462.0V468.5M454.0 458.9V465.2M454.5 457.7V461.0M455.0 457.1V459.1M455.5 456.4V461.4M457.0 454.5V459.2M457.5 455.7V458.5M458.0 455.9V459.0M459.5 451.9V455.6M460.0 451.1V455.3M460.5 453.8V456.4M461.0 453.5V460.0M461.5 456.6V462.9M462.5 458.8V461.9M463.0 458.7V461.8M463.5 459.6V461.4M464.0 459.8V461.8M464.5 456.7V463.3M466.5 454.5V457.2M467.0 454.1V457.7M467.5 453.0V456.9M469.0 451.1V453.5M469.5 451.1V456.3M470.0 454.5V461.9M470.5 457.2V464.2M471.0 459.0V462.3M471.5 461.2V462.6M472.5 461.9V464.1M473.0 461.5V467.6M474.0 469.4V473.0M474.5 469.8V473.4M475.5 470.3V473.5M476.5 476.5V479.7M477.0 475.6V479.5M478.0 471.5V476.0M478.5 468.3V473.8M479.5 466.6V470.5M482.5 456.6V459.3M483.0 457.1V461.0M483.5 458.9V461.6M484.5 453.0V459.0M485.5 452.4V456.8M486.0 453.5V454.9M486.5 451.9V457.3M487.0 454.4V456.0M488.5 454.8V460.8M489.0 458.1V464.9M489.5 458.5V464.7M490.0 458.1V462.7M490.5 452.8V459.2M491.0 454.7V456.6M491.5 454.9V459.2M492.0 456.4V458.9M493.0 454.6V458.0M494.0 452.9V457.5M495.0 457.2V463.6M495.5 462.3V467.1M496.0 463.2V466.4M497.5 459.0V463.7M498.0 461.7V467.6M498.5 465.4V469.4M499.0 467.7V470.8M499.5 467.8V470.4M500.5 463.3V468.1M501.0 462.2V465.2M501.5 463.5V466.6M502.0 463.0V467.4M502.5 461.2V464.9M503.5 457.3V460.7M504.0 456.5V458.6M504.5 456.5V460.0M505.0 457.5V461.2M505.5 457.5V462.8M506.0 455.1V461.9M507.0 449.8V453.2M508.0 451.1V452.5M508.5 446.7V452.2M509.5 439.2V444.4M510.0 438.4V444.9M510.5 442.8V447.1M511.0 446.1V450.4M511.5 449.0V454.5M512.0 450.6V452.0M513.0 448.5V451.6M513.5 450.0V454.7M514.0 452.0V457.2M514.5 454.3V460.8M515.0 458.1V461.6M516.5 450.0V455.8M517.0 448.6V454.0M518.5 441.8V447.0M519.0 440.4V442.8M519.5 440.5V443.0M520.5 441.6V444.7M521.0 440.4V445.1M521.5 439.9V442.9M522.0 439.1V444.8M522.5 442.7V448.4M523.0 447.3V449.8M523.5 446.9V451.9M524.0 447.1V452.5M524.5 450.1V456.5M525.0 454.8V458.8M525.5 457.8V460.8M526.0 456.5V461.1M527.0 453.6V459.3M527.5 454.4V459.9M528.0 456.1V459.5M529.0 452.6V454.3M529.5 450.7V456.2M530.0 454.1V456.5M530.5 456.0V457.9M531.0 455.8V458.6M531.5 454.0V457.4M533.0 459.3V465.8M533.5 465.4V467.6M534.0 463.4V469.1M534.5 459.0V465.5M535.0 459.3V462.4M535.5 458.9V461.4M536.5 460.2V463.8M537.0 458.9V462.3M537.5 454.3V460.2M538.0 455.9V457.1M538.5 453.3V458.6M539.0 455.2V462.3M539.5 460.2V462.4M540.0 458.2V462.2M541.0 456.0V459.6M541.5 459.0V461.0M542.0 460.0V462.6M542.5 461.7V463.2M543.0 461.7V462.6M544.5 461.5V464.6M545.0 462.2V467.2M545.5 464.0V469.6M546.0 467.8V471.3M547.0 463.9V467.6M547.5 464.0V468.1M548.0 465.0V469.8M548.5 466.5V468.0M550.0 461.3V466.8M550.5 464.3V466.0M552.0 462.7V464.2M553.0 465.4V469.2M553.5 467.0V472.5M554.5 467.8V474.3M555.5 467.7V472.2M556.0 469.5V471.0M556.5 468.3V470.8M558.0 452.0V461.4M558.5 452.5V456.6M559.5 451.7V453.8M560.0 446.0V454.1M560.5 437.3V446.8M561.0 438.4V440.3M561.5 437.6V444.1M562.5 444.1V448.7M563.0 443.1V447.9M563.5 442.1V447.4M564.0 444.3V445.6M564.5 444.7V447.0M565.0 445.7V448.7M565.5 448.1V452.6M566.0 449.6V453.4M567.5 445.0V448.8M569.0 441.3V446.6M570.0 435.9V440.6M570.5 432.4V437.6M571.0 435.0V436.4M571.5 434.4V436.2M572.0 434.0V438.3M573.0 426.9V433.6M573.5 421.6V429.2M574.5 417.7V421.8M575.0 417.1V420.4M576.0 413.5V417.6M577.0 406.3V413.6M578.0 409.8V413.3M579.5 403.3V406.4M580.0 404.0V410.3M580.5 408.2V416.4M581.0 414.2V416.8M581.5 413.3V415.2M582.0 411.5V415.1M582.5 411.9V414.7M583.0 412.4V417.3M583.5 415.2V420.9M584.0 417.8V422.4M585.5 416.9V422.4M586.0 415.0V419.9M586.5 416.7V417.6M587.0 414.8V419.7M587.5 414.6V418.9M588.0 414.7V420.7M588.5 416.4V418.5M589.5 417.2V420.3M590.0 418.1V425.2M590.5 423.1V427.5M591.0 420.7V425.9M593.0 414.0V417.5M594.0 416.9V418.3M595.0 408.8V413.9M595.5 406.9V412.5M596.5 409.5V411.9M597.0 410.1V411.5M597.5 407.9V412.3M598.5 399.7V405.2M599.5 396.2V402.1M600.0 400.9V405.2M600.5 403.6V408.2M601.0 404.5V406.8M601.5 402.8V407.3M602.5 406.9V413.0M603.0 411.0V419.1M603.5 414.1V417.8M604.0 409.8V416.3M604.5 412.2V413.9M605.5 418.3V422.7M606.0 417.9V422.5M606.5 413.5V421.1M607.0 409.6V414.3M607.5 410.1V412.6M608.0 410.8V413.8M608.5 409.1V414.9M609.5 409.9V415.4M610.0 413.6V419.2M610.5 417.2V424.4M611.0 422.3V424.9M611.5 420.1V425.5M612.0 419.7V423.5M612.5 419.2V424.1M613.0 421.8V424.4M613.5 424.0V428.5M614.0 424.6V426.2M614.5 419.5V424.7M615.0 420.3V423.3M615.5 417.5V421.5M616.0 419.0V421.9M616.5 418.3V421.7M617.0 414.5V418.9M617.5 408.5V416.7M618.0 409.3V413.0M618.5 409.5V416.1M619.0 415.2V419.8M619.5 418.7V419.5M620.5 413.5V419.1M621.0 413.4V418.5M621.5 415.8V418.6M622.0 416.3V417.1M622.5 414.4V417.2M623.5 407.9V413.2M624.0 405.0V409.6M624.5 401.4V405.6M625.0 403.1V408.4M625.5 405.3V408.3M626.0 401.2V408.6M626.5 394.7V404.0M627.5 394.0V397.3M630.0 382.7V391.3M630.5 382.6V388.9M631.0 385.1V391.1M632.5 386.0V388.1M633.0 387.9V392.0M633.5 390.3V398.4M634.0 395.1V398.8M634.5 395.9V400.7M635.5 398.7V403.2M636.5 399.5V403.3M637.0 401.5V406.9M637.5 402.8V410.1M639.5 398.9V402.6M640.0 398.5V402.4M640.5 400.1V402.7M641.0 399.2V404.3M641.5 403.0V407.0M642.0 405.4V411.7M642.5 410.5V421.2M643.0 417.7V425.4M643.5 418.9V426.0M644.0 415.8V422.3M644.5 411.1V418.6M645.0 405.3V413.8M647.5 393.2V397.5M648.0 394.2V395.9M648.5 394.6V397.1M649.5 389.3V393.7M650.5 382.4V387.5M651.5 385.5V391.3M652.0 387.1V393.5M652.5 390.5V396.8M653.0 392.1V394.8M654.0 390.7V396.3M654.5 392.8V399.8M655.0 396.8V401.6M655.5 400.6V402.2M656.0 396.6V405.2M657.0 396.1V407.0M657.5 405.6V412.6M658.0 405.6V410.1M658.5 406.2V410.1M659.0 405.3V408.7M659.5 404.7V408.5M660.0 406.8V409.3M660.5 405.8V408.4M661.0 401.3V407.3M661.5 397.0V404.8M662.0 391.3V397.8M662.5 389.0V394.9M663.0 389.7V392.3M664.0 385.7V389.0M664.5 376.4V387.7M666.0 373.7V379.4M666.5 375.9V378.6M667.0 375.3V380.3M667.5 376.9V380.0M668.0 372.6V378.7M668.5 372.7V376.9M670.0 371.0V371.8M670.5 368.3V375.2M671.0 373.6V376.1M672.0 371.3V376.1M672.5 372.4V374.4M673.0 369.5V375.1M673.5 372.5V377.2M674.0 373.5V383.1M674.5 379.8V385.3M675.0 382.2V386.9M675.5 384.3V388.4M676.0 384.1V387.3M676.5 384.1V388.7M677.0 383.0V386.5M677.5 384.5V389.1M678.0 383.5V388.1M679.5 370.3V375.9M680.0 363.5V371.8M680.5 365.6V368.8M681.0 363.8V369.9M681.5 362.3V371.9M683.5 352.2V357.9M684.0 345.7V355.0M685.0 341.6V346.2M685.5 343.0V348.4M686.0 344.0V347.7M686.5 345.7V347.2M687.0 344.6V346.3M687.5 344.9V350.5M688.0 347.1V355.8M688.5 354.2V362.1M690.5 353.7V358.5M691.0 355.3V363.9M691.5 359.2V363.7M692.0 361.0V364.0M692.5 360.1V361.7M693.0 360.7V364.7M693.5 360.7V365.3M694.0 364.7V371.9M694.5 371.8V381.6M695.0 373.5V381.5M696.0 372.7V382.7M696.5 380.3V390.6M697.5 379.4V388.1M698.0 380.9V384.1M698.5 378.7V386.2M699.0 376.8V384.6M699.5 373.1V381.6M700.0 368.8V377.1M700.5 365.2V371.1M701.0 367.3V370.5M701.5 366.7V370.2M702.0 361.9V368.1M702.5 358.3V363.9M703.0 352.4V362.9M703.5 353.5V361.2M704.0 358.9V369.1M704.5 367.4V372.6M705.0 367.1V370.0M705.5 365.6V370.9M706.0 366.3V368.3M707.0 365.5V370.3M707.5 366.6V372.3M708.0 363.4V372.4M709.0 356.5V359.9M709.5 358.2V359.8M710.5 352.2V362.2M711.5 348.7V353.7M712.5 343.4V347.2M713.0 346.2V349.3M713.5 346.9V355.3M714.0 353.4V359.1M714.5 355.5V358.9M715.0 355.8V359.2M716.0 363.6V369.6M716.5 368.5V376.6M717.5 372.3V377.0M718.0 371.3V378.7M718.5 375.0V379.6M719.0 378.4V384.0M719.5 382.6V388.6M720.0 381.4V387.8M721.0 372.1V377.8M721.5 370.9V373.2M723.5 363.9V371.1M724.0 361.8V366.3M724.5 360.2V363.9M725.0 360.5V365.4M725.5 360.4V365.3M726.0 362.4V367.3M726.5 362.0V365.6M727.0 353.8V365.6M727.5 350.4V354.5M728.0 350.4V353.3M728.5 351.5V354.2M729.0 348.9V353.6M729.5 347.0V351.7M730.0 346.4V351.8M730.5 346.5V350.2M731.0 345.3V350.8M731.5 342.1V350.1M732.0 343.7V348.6M732.5 344.7V348.9M733.0 347.5V351.3M733.5 350.1V353.8M734.0 349.8V355.1M734.5 348.5V351.9M737.0 338.0V344.8M738.5 324.7V330.9M739.5 318.9V324.1M740.0 322.4V326.6M740.5 321.8V325.3M741.0 319.5V325.9M742.5 309.9V314.4M743.0 312.5V313.1M743.5 307.8V314.6M744.5 299.4V308.8M745.0 304.0V309.4M745.5 303.9V312.1M746.0 300.0V309.4M746.5 299.7V307.8M747.0 305.5V316.4M748.0 317.8V322.6M748.5 319.3V322.0M749.0 317.1V321.5M749.5 316.3V324.0M750.0 319.8V326.3M750.5 323.3V332.2M751.0 325.7V330.1M751.5 329.4V331.3M752.0 326.3V330.1M752.5 328.6V332.7M753.0 329.3V335.3M753.5 331.4V337.5M755.0 330.1V336.4M755.5 332.1V338.6M756.0 337.8V342.7M756.5 342.6V346.2M757.0 342.3V346.7M757.5 341.0V346.3M758.5 337.3V345.9M760.0 325.2V330.8M760.5 316.4V326.0M761.0 314.0V321.2M761.5 309.0V316.1M762.0 307.0V310.1M762.5 307.0V311.4M763.0 308.1V312.2M764.0 301.3V311.1M764.5 299.9V303.1M765.0 299.0V304.9M765.5 302.8V310.8M766.0 305.9V308.6M767.5 295.4V303.3M768.0 298.6V299.8M768.5 298.8V301.6M769.0 294.6V300.2M769.5 292.8V295.4M770.5 292.2V297.8M771.0 296.2V301.4M771.5 300.2V307.2M772.0 304.1V313.5M772.5 312.4V322.0M773.0 318.2V334.2M775.5 298.8V306.5M777.5 281.6V287.0M779.0 260.6V272.9M779.5 254.2V265.1M780.0 248.2V259.1M780.5 249.1V253.7M781.0 249.1V264.1M781.5 259.6V274.9M782.0 272.8V276.5M782.5 272.5V277.1M783.5 274.7V285.6M784.0 283.4V292.4M785.0 284.0V289.8M785.5 279.3V287.8M786.0 279.2V282.2M786.5 277.9V285.0M787.0 278.3V281.5M787.5 270.5V279.2M788.0 264.2V274.0M788.5 265.5V271.2M789.0 267.0V269.1M789.5 268.3V278.1M790.0 271.9V276.7M790.5 274.5V278.2M791.0 275.0V279.8M791.5 279.0V285.4M792.0 283.8V294.6M792.5 290.6V304.5M793.0 303.8V313.0M794.5 289.1V300.8M795.5 280.8V286.7M796.0 276.2V282.8M796.5 275.1V281.9M797.5 257.7V270.2M798.0 256.2V263.2M798.5 256.3V258.2M799.0 252.9V258.9M799.5 258.0V261.1M801.5 247.3V256.6M803.0 238.7V245.7M803.5 241.4V244.1M804.0 242.3V246.4M805.5 239.2V247.8M806.0 242.9V248.7M807.0 240.6V248.1M808.5 230.6V235.7M809.0 232.7V240.7M809.5 237.5V246.7M811.0 250.0V252.5M812.0 248.4V253.0M812.5 250.0V254.0M813.0 251.7V258.0M813.5 256.2V262.4M814.0 257.1V262.6M815.0 260.3V262.6M815.5 260.1V264.6M817.0 269.8V276.5M817.5 273.3V278.9M818.5 269.4V276.5M819.0 268.9V277.2M820.0 276.1V279.3M821.0 270.8V277.6M821.5 265.9V274.0M822.0 265.6V272.8M822.5 269.3V276.0M823.0 271.6V273.1M823.5 272.6V275.2M824.0 270.6V275.5M824.5 271.4V277.4M826.0 275.3V280.7M828.0 262.5V269.4M828.5 269.2V271.2M829.0 262.8V271.2M829.5 259.7V268.4M830.0 260.9V265.0M830.5 261.0V265.3M831.0 260.7V268.8M831.5 266.0V273.2M832.0 270.7V275.6M832.5 269.9V271.6M833.0 269.4V279.5M833.5 273.6V279.9M834.0 278.4V282.8M834.5 280.1V283.3M835.5 273.6V278.7M836.0 276.6V286.6M836.5 282.8V291.0M837.0 287.3V291.8M838.0 269.7V280.4M838.5 266.1V273.8M839.0 259.2V268.0M839.5 252.9V266.0M840.5 234.9V246.6M841.0 235.6V239.2M841.5 235.4V245.5M842.0 239.3V243.9M843.5 236.8V238.7M844.0 232.9V245.4M844.5 238.7V247.5M845.0 240.8V248.7M846.0 238.8V241.8M846.5 239.7V244.4M848.0 233.1V240.7M848.5 226.3V235.8M849.0 223.7V233.5M849.5 218.6V225.3M850.0 215.1V222.6M850.5 214.7V217.4M852.5 194.7V199.7M853.0 193.0V196.0M854.0 188.8V199.4M855.0 172.0V187.6M855.5 171.6V177.2M856.0 167.3V173.8M856.5 170.9V180.3M857.5 164.8V173.2M858.0 156.5V170.6M859.0 152.4V155.5M859.5 152.7V158.0M860.0 154.6V155.8M860.5 143.8V157.0M861.0 129.9V149.8M862.0 146.1V159.3M863.0 159.7V171.4M863.5 146.5V164.9M864.5 121.3V140.7M865.0 119.0V123.1M865.5 122.2V127.1M866.0 120.6V127.2M866.5 115.8V125.5M867.0 116.9V126.7M868.0 129.3V142.0M868.5 134.6V141.5M869.5 113.1V128.1M870.0 103.8V119.9M870.5 100.9V109.0M871.0 101.6V110.7M872.0 99.2V104.8M874.0 85.3V94.8M874.5 74.8V87.2M875.0 72.4V91.2M875.5 84.5V99.2M876.0 97.3V113.2M876.5 102.4V115.9M877.0 90.3V109.3M877.5 79.2V98.1M878.0 64.3V84.6M878.5 54.3V69.3M879.0 51.4V59.5M879.5 52.4V66.6M880.0 60.6V73.5M880.5 52.8V73.6M881.0 51.8V98.2M881.5 72.9V94.5M882.0 73.5V119.1M882.5 104.9V119.6M883.0 105.5V109.2M883.5 104.1V111.0M884.0 105.6V113.0M884.5 104.5V142.2M885.0 138.8V164.8M2.5 421.6V423.8M3.0 419.4V424.2M6.0 416.6V420.0M7.0 423.5V433.6M8.0 425.7V431.1M11.0 427.7V429.3M11.5 425.5V429.8M19.0 445.9V448.1M20.0 440.7V445.8M22.0 449.7V456.8M24.5 452.3V455.4M28.0 445.2V448.9M31.0 444.0V450.0M31.5 443.3V446.3M34.0 444.9V450.5M37.0 448.9V455.5M39.5 446.7V452.2M40.0 446.2V450.0M42.5 448.4V452.2M45.0 453.0V455.8M45.5 452.5V454.2M48.5 459.4V463.5M50.0 463.4V467.9M50.5 459.2V466.6M52.5 463.5V468.6M53.0 462.6V465.3M53.5 458.2V463.3M55.0 463.4V469.0M56.0 468.1V471.7M56.5 464.5V470.2M60.5 461.2V464.8M61.0 459.0V464.2M62.5 461.4V466.6M63.0 460.5V464.4M66.5 463.6V467.4M72.5 471.0V474.0M75.0 467.1V476.0M77.0 478.2V479.7M78.0 472.9V478.2M78.5 469.9V473.2M79.0 467.3V471.4M80.0 466.0V471.2M80.5 462.5V468.4M81.0 459.7V464.5M82.0 461.6V467.9M83.0 458.6V462.6M83.5 454.9V460.9M84.5 454.3V457.7M85.0 452.0V455.1M85.5 452.4V455.6M87.5 446.9V449.3M90.0 445.9V450.0M93.0 448.6V451.9M94.0 451.5V455.0M95.0 450.6V452.1M97.0 450.4V452.7M99.0 437.0V442.4M99.5 436.3V438.5M103.5 427.9V430.5M105.0 435.9V437.6M105.5 432.4V437.1M107.5 439.7V443.5M108.0 438.8V440.4M111.5 450.5V452.4M112.0 449.6V454.6M112.5 449.5V451.6M113.0 447.4V451.5M114.5 453.7V458.0M115.5 454.2V459.4M118.5 459.8V463.7M120.5 461.7V466.8M121.5 450.5V460.1M124.0 453.3V457.3M124.5 448.9V454.7M126.5 452.9V456.8M127.5 447.5V452.5M128.5 451.7V456.8M130.0 454.5V456.8M133.0 453.2V458.2M135.5 450.6V454.1M136.0 449.3V452.3M138.5 447.0V450.3M139.0 445.5V452.3M140.0 451.8V456.7M140.5 456.2V461.3M141.5 459.8V460.7M143.5 466.7V469.9M144.0 463.5V470.4M146.0 458.8V465.3M146.5 455.0V461.5M151.5 444.8V448.1M152.0 442.2V447.3M155.5 438.9V441.9M156.0 439.1V442.7M157.5 442.2V445.9M158.0 438.5V444.4M160.0 430.5V436.4M161.0 422.7V429.3M169.5 424.6V426.6M170.5 421.7V424.4M173.5 418.9V423.8M176.5 420.2V425.7M179.0 418.1V425.1M180.5 414.3V421.5M181.5 412.8V416.3M188.5 438.8V442.7M190.5 430.8V436.5M193.0 435.4V442.4M196.5 453.7V456.0M197.0 453.7V455.4M200.5 454.9V458.8M204.0 451.4V454.9M204.5 447.7V452.7M206.5 449.0V454.8M208.5 444.6V451.7M210.5 447.3V449.9M211.0 445.3V451.0M212.0 452.1V456.7M213.0 453.3V457.2M218.0 466.8V468.9M218.5 465.2V467.9M219.5 464.1V469.5M221.5 474.0V477.2M222.5 470.7V474.8M224.5 474.6V478.1M225.0 474.0V476.1M228.5 477.0V478.9M231.5 480.3V483.5M233.5 484.7V486.4M238.0 478.8V483.0M238.5 477.9V481.1M240.0 478.7V483.2M240.5 474.1V481.2M243.0 471.3V475.5M243.5 472.3V474.2M246.0 467.2V473.1M252.0 470.8V476.0M252.5 471.0V473.7M256.0 476.8V479.8M258.0 484.9V490.1M263.0 486.2V490.4M263.5 485.1V486.7M266.0 485.2V488.0M267.0 484.2V489.9M268.5 491.0V495.1M269.5 490.1V492.4M273.0 491.0V496.1M274.0 489.2V491.9M275.5 484.3V487.5M278.5 478.9V481.1M282.0 484.5V485.7M284.5 488.7V491.2M285.5 488.5V490.9M290.5 482.4V487.2M295.0 469.3V473.2M296.5 470.6V474.1M297.0 464.4V473.0M297.5 459.9V467.4M298.0 456.8V462.2M299.5 460.1V466.3M303.5 460.6V465.4M306.0 455.1V461.4M306.5 456.1V458.3M308.5 453.6V457.1M309.0 451.5V456.4M310.5 453.1V457.6M313.0 453.4V454.9M318.0 458.7V463.1M318.5 456.4V460.3M324.0 454.7V458.5M326.5 436.8V439.2M330.5 431.9V438.5M334.5 436.1V438.7M335.5 435.1V438.6M339.5 434.2V440.0M343.0 444.8V447.8M343.5 442.2V446.2M345.0 448.6V453.0M345.5 449.0V455.2M346.0 449.6V450.7M346.5 449.0V453.7M348.0 455.6V458.6M348.5 453.1V456.5M349.0 452.6V455.8M351.5 462.8V466.0M352.0 460.8V463.9M355.5 468.1V470.7M358.0 462.3V465.4M363.0 467.6V471.2M364.0 462.9V466.6M367.0 450.7V454.2M370.5 441.4V446.2M371.0 439.1V443.6M372.5 435.3V436.8M374.0 432.5V437.6M374.5 428.4V433.6M376.5 427.7V433.0M377.5 422.9V429.8M383.5 420.9V423.0M384.0 421.1V423.0M385.0 419.4V426.1M386.5 424.2V432.0M387.0 425.3V428.5M389.0 428.7V432.2M390.5 429.5V432.9M392.0 417.1V422.1M393.0 413.9V417.1M401.0 434.2V437.1M406.5 435.5V440.4M407.5 432.5V437.9M410.5 427.1V431.9M413.5 434.0V439.3M414.5 433.2V438.4M415.0 436.5V442.8M417.0 441.8V444.3M418.0 442.3V446.0M422.0 454.9V456.8M427.0 450.1V454.3M427.5 448.0V452.6M428.5 447.2V448.7M429.5 443.3V447.8M430.5 441.8V443.8M435.5 438.3V440.5M436.5 439.2V443.6M437.5 445.0V447.5M438.5 443.1V445.4M441.0 449.7V452.3M441.5 449.0V451.2M445.5 455.1V461.1M447.0 460.8V464.1M448.0 457.5V463.5M451.5 467.1V469.4M452.0 468.1V471.3M453.0 467.6V474.5M456.0 459.6V461.2M456.5 456.4V460.6M458.5 455.2V458.1M459.0 452.8V456.9M462.0 459.8V461.5M465.0 455.9V459.9M465.5 454.9V457.8M466.0 454.4V457.9M468.0 450.8V454.5M468.5 451.3V452.5M472.0 461.8V464.7M473.5 463.9V471.4M475.0 471.2V471.7M476.0 470.9V478.9M477.5 472.4V478.4M479.0 467.1V470.0M480.0 466.0V468.0M480.5 464.7V468.9M481.0 461.9V466.5M481.5 459.6V464.6M482.0 458.1V460.5M484.0 456.6V463.2M485.0 453.1V454.5M487.5 453.9V458.2M488.0 454.8V455.4M492.5 456.7V460.6M493.5 453.4V456.1M494.5 456.7V459.9M496.5 461.8V464.5M497.0 460.7V464.1M500.0 466.4V471.6M503.0 459.0V463.0M506.5 449.6V456.2M507.5 451.2V452.1M509.0 442.6V447.6M512.5 449.0V450.9M515.5 459.4V463.2M516.0 455.0V460.6M517.5 447.1V451.4M518.0 444.1V447.9M520.0 440.1V444.1M526.5 452.2V459.4M528.5 453.4V456.9M532.0 455.8V457.3M532.5 454.5V463.5M536.0 459.8V462.3M540.5 457.7V462.5M543.5 459.8V462.6M544.0 461.1V462.8M546.5 465.2V472.1M549.0 463.8V469.4M549.5 462.5V465.2M551.0 462.2V466.1M551.5 463.7V464.6M552.5 463.3V466.1M554.0 469.5V472.9M555.0 466.9V470.5M557.0 463.5V470.7M557.5 457.6V463.7M559.0 452.5V454.6M562.0 442.1V447.0M566.5 449.1V452.4M567.0 446.4V449.7M568.0 446.7V448.5M568.5 445.8V447.5M569.5 437.6V444.6M572.5 431.2V437.6M574.0 418.8V423.5M575.5 416.5V420.0M576.5 409.7V414.3M577.5 408.1V411.4M578.5 404.5V414.7M579.0 404.0V409.8M584.5 421.1V422.6M585.0 421.6V421.9M589.0 417.6V420.6M591.5 416.9V423.0M592.0 412.7V417.9M592.5 414.0V416.5M593.5 415.5V419.4M594.5 413.1V418.3M596.0 406.5V410.4M598.0 404.5V408.9M599.0 395.9V403.0M602.0 402.3V408.5M605.0 411.8V421.8M609.0 410.0V413.3M620.0 415.9V420.5M623.0 411.9V417.6M627.0 393.9V399.7M628.0 392.4V398.6M628.5 393.5V395.4M629.0 390.2V397.0M629.5 385.0V392.3M631.5 387.5V390.6M632.0 385.6V390.9M635.0 398.0V400.5M636.0 398.4V400.8M638.0 405.3V408.6M638.5 401.8V409.5M639.0 397.5V403.3M645.5 403.3V408.4M646.0 402.4V407.8M646.5 399.0V405.5M647.0 393.5V400.1M649.0 393.0V397.6M650.0 384.4V391.4M651.0 381.7V386.9M653.5 391.5V393.1M656.5 395.9V399.5M663.5 387.4V390.4M665.0 373.2V380.9M665.5 374.5V378.0M669.0 370.4V374.6M669.5 371.0V372.1M671.5 372.5V374.6M678.5 378.7V384.5M679.0 372.9V379.8M682.0 356.7V364.8M682.5 355.1V358.8M683.0 355.0V355.8M684.5 342.2V347.6M689.0 356.6V361.6M689.5 355.8V359.4M690.0 353.7V358.5M695.5 369.8V376.5M697.0 385.9V392.1M706.5 366.2V371.6M708.5 357.1V365.4M710.0 356.9V360.7M711.0 348.7V355.7M712.0 344.6V350.2M715.5 359.1V365.2M717.0 372.5V377.2M720.5 375.2V383.8M722.0 368.5V372.5M722.5 369.8V373.4M723.0 367.4V373.0M735.0 343.7V351.1M735.5 340.9V345.6M736.0 341.1V344.2M736.5 338.4V342.6M737.5 334.8V341.8M738.0 330.7V336.5M739.0 321.2V327.5M741.5 314.2V321.5M742.0 309.8V314.8M744.0 299.6V311.1M747.5 312.2V321.7M754.0 333.3V339.1M754.5 329.7V335.3M758.0 341.8V344.8M759.0 333.1V340.2M759.5 329.6V336.2M763.5 307.4V311.8M766.5 302.2V308.0M767.0 300.4V307.3M770.0 292.2V295.5M773.5 327.0V334.5M774.0 321.5V328.9M774.5 311.8V324.1M775.0 306.3V316.6M776.0 288.8V299.7M776.5 287.1V295.2M777.0 281.2V289.3M778.0 278.5V284.3M778.5 271.3V281.8M783.0 272.2V279.7M784.5 283.4V293.2M793.5 303.6V314.0M794.0 296.1V305.6M795.0 281.7V291.6M797.0 268.6V279.3M800.0 258.5V265.6M800.5 259.5V262.7M801.0 254.5V264.5M802.0 245.5V254.3M802.5 244.7V248.9M804.5 240.2V246.8M805.0 239.8V243.4M806.5 243.7V249.3M807.5 236.1V243.7M808.0 230.1V239.1M810.0 241.5V251.4M810.5 248.2V254.2M811.5 248.5V253.4M814.5 260.0V263.9M816.0 262.7V269.6M816.5 266.4V272.7M818.0 268.9V277.0M819.5 270.6V277.3M820.5 273.6V279.6M825.0 275.4V278.3M825.5 276.3V280.6M826.5 271.6V279.5M827.0 263.5V273.0M827.5 262.7V271.5M835.0 273.2V281.0M837.5 277.0V288.3M840.0 243.5V256.1M842.5 238.4V246.0M843.0 236.8V241.3M845.5 237.0V245.8M847.0 238.3V242.8M847.5 239.2V240.2M851.0 210.7V218.3M851.5 205.2V216.7M852.0 199.3V210.1M853.5 194.8V197.7M854.5 181.7V191.2M857.0 170.8V177.4M858.5 153.7V161.8M861.5 131.9V146.3M862.5 155.5V172.1M864.0 133.3V152.0M867.5 117.9V132.1M869.0 125.9V139.3M871.5 99.8V106.6M872.5 94.3V103.1M873.0 97.7V103.2M873.5 90.8V104.5" stroke="#bd3350" stroke-width="1.20" fill="none"/>
<path d="M2.5 421.6V423.8M3.0 419.4V424.2M6.0 416.6V420.0M7.0 423.5V433.6M8.0 425.7V431.1M11.0 427.7V429.3M11.5 425.5V429.8M19.0 445.9V448.1M20.0 440.7V445.8M22.0 449.7V456.8M24.5 452.3V455.4M28.0 445.2V448.9M31.0 444.0V450.0M31.5 443.3V446.3M34.0 444.9V450.5M37.0 448.9V455.5M39.5 446.7V452.2M40.0 446.2V450.0M42.5 448.4V452.2M45.0 453.0V455.8M45.5 452.5V454.2M48.5 459.4V463.5M50.0 463.4V467.9M50.5 459.2V466.6M52.5 463.5V468.6M53.0 462.6V465.3M53.5 458.2V463.3M55.0 463.4V469.0M56.0 468.1V471.7M56.5 464.5V470.2M60.5 461.2V464.8M61.0 459.0V464.2M62.5 461.4V466.6M63.0 460.5V464.4M66.5 463.6V467.4M72.5 471.0V474.0M75.0 467.1V476.0M77.0 478.2V479.7M78.0 472.9V478.2M78.5 469.9V473.2M79.0 467.3V471.4M80.0 466.0V471.2M80.5 462.5V468.4M81.0 459.7V464.5M82.0 461.6V467.9M83.0 458.6V462.6M83.5 454.9V460.9M84.5 454.3V457.7M85.0 452.0V455.1M85.5 452.4V455.6M87.5 446.9V449.3M90.0 445.9V450.0M93.0 448.6V451.9M94.0 451.5V455.0M95.0 450.6V452.1M97.0 450.4V452.7M99.0 437.0V442.4M99.5 436.3V438.5M103.5 427.9V430.5M105.0 435.9V437.6M105.5 432.4V437.1M107.5 439.7V443.5M108.0 438.8V440.4M111.5 450.5V452.4M112.0 449.6V454.6M112.5 449.5V451.6M113.0 447.4V451.5M114.5 453.7V458.0M115.5 454.2V459.4M118.5 459.8V463.7M120.5 461.7V466.8M121.5 450.5V460.1M124.0 453.3V457.3M124.5 448.9V454.7M126.5 452.9V456.8M127.5 447.5V452.5M128.5 451.7V456.8M130.0 454.5V456.8M133.0 453.2V458.2M135.5 450.6V454.1M136.0 449.3V452.3M138.5 447.0V450.3M139.0 445.5V452.3M140.0 451.8V456.7M140.5 456.2V461.3M141.5 459.8V460.7M143.5 466.7V469.9M144.0 463.5V470.4M146.0 458.8V465.3M146.5 455.0V461.5M151.5 444.8V448.1M152.0 442.2V447.3M155.5 438.9V441.9M156.0 439.1V442.7M157.5 442.2V445.9M158.0 438.5V444.4M160.0 430.5V436.4M161.0 422.7V429.3M169.5 424.6V426.6M170.5 421.7V424.4M173.5 418.9V423.8M176.5 420.2V425.7M179.0 418.1V425.1M180.5 414.3V421.5M181.5 412.8V416.3M188.5 438.8V442.7M190.5 430.8V436.5M193.0 435.4V442.4M196.5 453.7V456.0M197.0 453.7V455.4M200.5 454.9V458.8M204.0 451.4V454.9M204.5 447.7V452.7M206.5 449.0V454.8M208.5 444.6V451.7M210.5 447.3V449.9M211.0 445.3V451.0M212.0 452.1V456.7M213.0 453.3V457.2M218.0 466.8V468.9M218.5 465.2V467.9M219.5 464.1V469.5M221.5 474.0V477.2M222.5 470.7V474.8M224.5 474.6V478.1M225.0 474.0V476.1M228.5 477.0V478.9M231.5 480.3V483.5M233.5 484.7V486.4M238.0 478.8V483.0M238.5 477.9V481.1M240.0 478.7V483.2M240.5 474.1V481.2M243.0 471.3V475.5M243.5 472.3V474.2M246.0 467.2V473.1M252.0 470.8V476.0M252.5 471.0V473.7M256.0 476.8V479.8M258.0 484.9V490.1M263.0 486.2V490.4M263.5 485.1V486.7M266.0 485.2V488.0M267.0 484.2V489.9M268.5 491.0V495.1M269.5 490.1V492.4M273.0 491.0V496.1M274.0 489.2V491.9M275.5 484.3V487.5M278.5 478.9V481.1M282.0 484.5V485.7M284.5 488.7V491.2M285.5 488.5V490.9M290.5 482.4V487.2M295.0 469.3V473.2M296.5 470.6V474.1M297.0 464.4V473.0M297.5 459.9V467.4M298.0 456.8V462.2M299.5 460.1V466.3M303.5 460.6V465.4M306.0 455.1V461.4M306.5 456.1V458.3M308.5 453.6V457.1M309.0 451.5V456.4M310.5 453.1V457.6M313.0 453.4V454.9M318.0 458.7V463.1M318.5 456.4V460.3M324.0 454.7V458.5M326.5 436.8V439.2M330.5 431.9V438.5M334.5 436.1V438.7M335.5 435.1V438.6M339.5 434.2V440.0M343.0 444.8V447.8M343.5 442.2V446.2M345.0 448.6V453.0M345.5 449.0V455.2M346.0 449.6V450.7M346.5 449.0V453.7M348.0 455.6V458.6M348.5 453.1V456.5M349.0 452.6V455.8M351.5 462.8V466.0M352.0 460.8V463.9M355.5 468.1V470.7M358.0 462.3V465.4M363.0 467.6V471.2M364.0 462.9V466.6M367.0 450.7V454.2M370.5 441.4V446.2M371.0 439.1V443.6M372.5 435.3V436.8M374.0 432.5V437.6M374.5 428.4V433.6M376.5 427.7V433.0M377.5 422.9V429.8M383.5 420.9V423.0M384.0 421.1V423.0M385.0 419.4V426.1M386.5 424.2V432.0M387.0 425.3V428.5M389.0 428.7V432.2M390.5 429.5V432.9M392.0 417.1V422.1M393.0 413.9V417.1M401.0 434.2V437.1M406.5 435.5V440.4M407.5 432.5V437.9M410.5 427.1V431.9M413.5 434.0V439.3M414.5 433.2V438.4M415.0 436.5V442.8M417.0 441.8V444.3M418.0 442.3V446.0M422.0 454.9V456.8M427.0 450.1V454.3M427.5 448.0V452.6M428.5 447.2V448.7M429.5 443.3V447.8M430.5 441.8V443.8M435.5 438.3V440.5M436.5 439.2V443.6M437.5 445.0V447.5M438.5 443.1V445.4M441.0 449.7V452.3M441.5 449.0V451.2M445.5 455.1V461.1M447.0 460.8V464.1M448.0 457.5V463.5M451.5 467.1V469.4M452.0 468.1V471.3M453.0 467.6V474.5M456.0 459.6V461.2M456.5 456.4V460.6M458.5 455.2V458.1M459.0 452.8V456.9M462.0 459.8V461.5M465.0 455.9V459.9M465.5 454.9V457.8M466.0 454.4V457.9M468.0 450.8V454.5M468.5 451.3V452.5M472.0 461.8V464.7M473.5 463.9V471.4M475.0 471.2V471.7M476.0 470.9V478.9M477.5 472.4V478.4M479.0 467.1V470.0M480.0 466.0V468.0M480.5 464.7V468.9M481.0 461.9V466.5M481.5 459.6V464.6M482.0 458.1V460.5M484.0 456.6V463.2M485.0 453.1V454.5M487.5 453.9V458.2M488.0 454.8V455.4M492.5 456.7V460.6M493.5 453.4V456.1M494.5 456.7V459.9M496.5 461.8V464.5M497.0 460.7V464.1M500.0 466.4V471.6M503.0 459.0V463.0M506.5 449.6V456.2M507.5 451.2V452.1M509.0 442.6V447.6M512.5 449.0V450.9M515.5 459.4V463.2M516.0 455.0V460.6M517.5 447.1V451.4M518.0 444.1V447.9M520.0 440.1V444.1M526.5 452.2V459.4M528.5 453.4V456.9M532.0 455.8V457.3M532.5 454.5V463.5M536.0 459.8V462.3M540.5 457.7V462.5M543.5 459.8V462.6M544.0 461.1V462.8M546.5 465.2V472.1M549.0 463.8V469.4M549.5 462.5V465.2M551.0 462.2V466.1M551.5 463.7V464.6M552.5 463.3V466.1M554.0 469.5V472.9M555.0 466.9V470.5M557.0 463.5V470.7M557.5 457.6V463.7M559.0 452.5V454.6M562.0 442.1V447.0M566.5 449.1V452.4M567.0 446.4V449.7M568.0 446.7V448.5M568.5 445.8V447.5M569.5 437.6V444.6M572.5 431.2V437.6M574.0 418.8V423.5M575.5 416.5V420.0M576.5 409.7V414.3M577.5 408.1V411.4M578.5 404.5V414.7M579.0 404.0V409.8M584.5 421.1V422.6M585.0 421.6V421.9M589.0 417.6V420.6M591.5 416.9V423.0M592.0 412.7V417.9M592.5 414.0V416.5M593.5 415.5V419.4M594.5 413.1V418.3M596.0 406.5V410.4M598.0 404.5V408.9M599.0 395.9V403.0M602.0 402.3V408.5M605.0 411.8V421.8M609.0 410.0V413.3M620.0 415.9V420.5M623.0 411.9V417.6M627.0 393.9V399.7M628.0 392.4V398.6M628.5 393.5V395.4M629.0 390.2V397.0M629.5 385.0V392.3M631.5 387.5V390.6M632.0 385.6V390.9M635.0 398.0V400.5M636.0 398.4V400.8M638.0 405.3V408.6M638.5 401.8V409.5M639.0 397.5V403.3M645.5 403.3V408.4M646.0 402.4V407.8M646.5 399.0V405.5M647.0 393.5V400.1M649.0 393.0V397.6M650.0 384.4V391.4M651.0 381.7V386.9M653.5 391.5V393.1M656.5 395.9V399.5M663.5 387.4V390.4M665.0 373.2V380.9M665.5 374.5V378.0M669.0 370.4V374.6M669.5 371.0V372.1M671.5 372.5V374.6M678.5 378.7V384.5M679.0 372.9V379.8M682.0 356.7V364.8M682.5 355.1V358.8M683.0 355.0V355.8M684.5 342.2V347.6M689.0 356.6V361.6M689.5 355.8V359.4M690.0 353.7V358.5M695.5 369.8V376.5M697.0 385.9V392.1M706.5 366.2V371.6M708.5 357.1V365.4M710.0 356.9V360.7M711.0 348.7V355.7M712.0 344.6V350.2M715.5 359.1V365.2M717.0 372.5V377.2M720.5 375.2V383.8M722.0 368.5V372.5M722.5 369.8V373.4M723.0 367.4V373.0M735.0 343.7V351.1M735.5 340.9V345.6M736.0 341.1V344.2M736.5 338.4V342.6M737.5 334.8V341.8M738.0 330.7V336.5M739.0 321.2V327.5M741.5 314.2V321.5M742.0 309.8V314.8M744.0 299.6V311.1M747.5 312.2V321.7M754.0 333.3V339.1M754.5 329.7V335.3M758.0 341.8V344.8M759.0 333.1V340.2M759.5 329.6V336.2M763.5 307.4V311.8M766.5 302.2V308.0M767.0 300.4V307.3M770.0 292.2V295.5M773.5 327.0V334.5M774.0 321.5V328.9M774.5 311.8V324.1M775.0 306.3V316.6M776.0 288.8V299.7M776.5 287.1V295.2M777.0 281.2V289.3M778.0 278.5V284.3M778.5 271.3V281.8M783.0 272.2V279.7M784.5 283.4V293.2M793.5 303.6V314.0M794.0 296.1V305.6M795.0 281.7V291.6M797.0 268.6V279.3M800.0 258.5V265.6M800.5 259.5V262.7M801.0 254.5V264.5M802.0 245.5V254.3M802.5 244.7V248.9M804.5 240.2V246.8M805.0 239.8V243.4M806.5 243.7V249.3M807.5 236.1V243.7M808.0 230.1V239.1M810.0 241.5V251.4M810.5 248.2V254.2M811.5 248.5V253.4M814.5 260.0V263.9M816.0 262.7V269.6M816.5 266.4V272.7M818.0 268.9V277.0M819.5 270.6V277.3M820.5 273.6V279.6M825.0 275.4V278.3M825.5 276.3V280.6M826.5 271.6V279.5M827.0 263.5V273.0M827.5 262.7V271.5M835.0 273.2V281.0M837.5 277.0V288.3M840.0 243.5V256.1M842.5 238.4V246.0M843.0 236.8V241.3M845.5 237.0V245.8M847.0 238.3V242.8M847.5 239.2V240.2M851.0 210.7V218.3M851.5 205.2V216.7M852.0 199.3V210.1M853.5 194.8V197.7M854.5 181.7V191.2M857.0 170.8V177.4M858.5 153.7V161.8M861.5 131.9V146.3M862.5 155.5V172.1M864.0 133.3V152.0M867.5 117.9V132.1M869.0 125.9V139.3M871.5 99.8V106.6M872.5 94.3V103.1M873.0 97.7V103.2M873.5 90.8V104.5" stroke="#2a8462" stroke-opacity="0.85" stroke-width="0.96" fill="none"/>
<path d="M94.3 455.0V469.0M109.6 446.0V486.8M129.1 458.0V486.8M132.9 458.0V486.8M773.1 300.0V353.0M643.2 400.0V424.0M885.2 147.0V170.0M879.4 35.0V70.0" stroke="#c23a55" stroke-width="0.85" fill="none"/>
<path d="M116.4 458.0V486.8M793.0 288.0V312.0" stroke="#2c6b52" stroke-width="0.85" fill="none"/>
<circle cx="272.8" cy="500.3" r="2.45" fill="#4490e2"/>
<circle cx="877.7" cy="33.1" r="2.45" fill="#4490e2"/>
<text x="275.4" y="32.5" font-size="7.8" fill="none" stroke="#fff" stroke-opacity="0.8" stroke-width="2.4" stroke-linejoin="round" textLength="57.7" lengthAdjust="spacingAndGlyphs">43,676 (100.00%)</text>
<text x="275.4" y="32.5" font-size="7.8" fill="#161616" stroke="#161616" stroke-width="0.5" textLength="57.7" lengthAdjust="spacingAndGlyphs">43,676 (100.00%)</text>
<text x="275.0" y="264.9" font-size="7.8" fill="none" stroke="#fff" stroke-opacity="0.8" stroke-width="2.4" stroke-linejoin="round" textLength="54.1" lengthAdjust="spacingAndGlyphs">26,891 (50.00%)</text>
<text x="275.0" y="264.9" font-size="7.8" fill="#161616" stroke="#161616" stroke-width="0.5" textLength="54.1" lengthAdjust="spacingAndGlyphs">26,891 (50.00%)</text>
<text x="276.5" y="496.5" font-size="7.8" fill="none" stroke="#fff" stroke-opacity="0.8" stroke-width="2.4" stroke-linejoin="round" textLength="48.4" lengthAdjust="spacingAndGlyphs">10,106 (0.00%)</text>
<text x="276.5" y="496.5" font-size="7.8" fill="#161616" stroke="#161616" stroke-width="0.5" textLength="48.4" lengthAdjust="spacingAndGlyphs">10,106 (0.00%)</text>
<rect x="784.4" y="26" width="85.7" height="13.8" rx="2.2" fill="#4292ea" fill-opacity="0.86"/>
<text x="787.6" y="35.5" font-size="8.7" fill="#08193a" stroke="#08193a" stroke-width="0.3" textLength="80.5" lengthAdjust="spacingAndGlyphs">778 / 33.82 / 334.68%</text>
<text x="968.2" y="532.7" font-size="8.6" fill="#9a9a9a" textLength="25.8" lengthAdjust="spacingAndGlyphs">8,000</text>
<text x="968.2" y="505.0" font-size="8.6" fill="#9a9a9a" textLength="25.8" lengthAdjust="spacingAndGlyphs">10,000</text>
<text x="968.2" y="477.3" font-size="8.6" fill="#9a9a9a" textLength="25.8" lengthAdjust="spacingAndGlyphs">12,000</text>
<text x="968.2" y="449.6" font-size="8.6" fill="#9a9a9a" textLength="25.8" lengthAdjust="spacingAndGlyphs">14,000</text>
<text x="968.2" y="421.9" font-size="8.6" fill="#9a9a9a" textLength="25.8" lengthAdjust="spacingAndGlyphs">16,000</text>
<text x="968.2" y="394.2" font-size="8.6" fill="#9a9a9a" textLength="25.8" lengthAdjust="spacingAndGlyphs">18,000</text>
<text x="968.2" y="366.5" font-size="8.6" fill="#9a9a9a" textLength="25.8" lengthAdjust="spacingAndGlyphs">20,000</text>
<text x="968.2" y="338.8" font-size="8.6" fill="#9a9a9a" textLength="25.8" lengthAdjust="spacingAndGlyphs">22,000</text>
<text x="968.2" y="311.1" font-size="8.6" fill="#9a9a9a" textLength="25.8" lengthAdjust="spacingAndGlyphs">24,000</text>
<text x="968.2" y="283.3" font-size="8.6" fill="#9a9a9a" textLength="25.8" lengthAdjust="spacingAndGlyphs">26,000</text>
<text x="968.2" y="255.6" font-size="8.6" fill="#9a9a9a" textLength="25.8" lengthAdjust="spacingAndGlyphs">28,000</text>
<text x="968.2" y="227.9" font-size="8.6" fill="#9a9a9a" textLength="25.8" lengthAdjust="spacingAndGlyphs">30,000</text>
<text x="968.2" y="200.2" font-size="8.6" fill="#9a9a9a" textLength="25.8" lengthAdjust="spacingAndGlyphs">32,000</text>
<text x="968.2" y="172.5" font-size="8.6" fill="#9a9a9a" textLength="25.8" lengthAdjust="spacingAndGlyphs">34,000</text>
<text x="968.2" y="144.8" font-size="8.6" fill="#9a9a9a" textLength="25.8" lengthAdjust="spacingAndGlyphs">36,000</text>
<text x="968.2" y="117.1" font-size="8.6" fill="#9a9a9a" textLength="25.8" lengthAdjust="spacingAndGlyphs">38,000</text>
<text x="968.2" y="89.4" font-size="8.6" fill="#9a9a9a" textLength="25.8" lengthAdjust="spacingAndGlyphs">40,000</text>
<text x="968.2" y="61.7" font-size="8.6" fill="#9a9a9a" textLength="25.8" lengthAdjust="spacingAndGlyphs">42,000</text>
<text x="968.2" y="34.0" font-size="8.6" fill="#9a9a9a" textLength="25.8" lengthAdjust="spacingAndGlyphs">44,000</text>
<text x="968.2" y="6.3" font-size="8.6" fill="#9a9a9a" textLength="25.8" lengthAdjust="spacingAndGlyphs">46,000</text>
<path d="M960.7 34.6L966 28.5H999V40.7H966Z" fill="#0c0c0c"/>
<text x="968.2" y="37.6" font-size="8.5" fill="#fff" stroke="#fff" stroke-width="0.4" textLength="26" lengthAdjust="spacingAndGlyphs">43,838</text>
<path d="M960.7 225.3L966 219.2H999V231.4H966Z" fill="#0c0c0c"/>
<text x="968.2" y="228.3" font-size="8.5" fill="#fff" stroke="#fff" stroke-width="0.4" textLength="26" lengthAdjust="spacingAndGlyphs">30,090</text>
<path d="M960.7 151.4L966 145.3H999V157.5H966Z" fill="#27a06c"/>
<text x="968.2" y="154.4" font-size="8.5" fill="#07331f" stroke="#07331f" stroke-width="0.4" textLength="26" lengthAdjust="spacingAndGlyphs">35,415</text>
<text x="25.5" y="527.6" font-size="8.6" fill="#9a9a9a" text-anchor="middle">Jul</text>
<text x="127.5" y="527.6" font-size="8.6" fill="#9a9a9a" text-anchor="middle">Jan '22</text>
<text x="224.5" y="527.6" font-size="8.6" fill="#9a9a9a" text-anchor="middle">Jul</text>
<text x="325.5" y="527.6" font-size="8.6" fill="#9a9a9a" text-anchor="middle">Jan '23</text>
<text x="424.5" y="527.6" font-size="8.6" fill="#9a9a9a" text-anchor="middle">Jul</text>
<text x="523.5" y="527.6" font-size="8.6" fill="#9a9a9a" text-anchor="middle">Jan '24</text>
<text x="622.0" y="527.6" font-size="8.6" fill="#9a9a9a" text-anchor="middle">Jul</text>
<text x="720.5" y="527.6" font-size="8.6" fill="#9a9a9a" text-anchor="middle">Jan '25</text>
<text x="819.0" y="527.6" font-size="8.6" fill="#9a9a9a" text-anchor="middle">Jul</text>
<rect x="29.9" y="518.1" width="76.9" height="12.2" fill="#0c0c0c"/>
<text x="35" y="527.9" font-size="8.6" font-weight="bold" fill="#fff" textLength="67.3" lengthAdjust="spacingAndGlyphs">16.09.2021 15:00</text>
<rect x="0" y="497.5" width="14.5" height="14" fill="#fff"/>
<path d="M3.7 504.7L6.5 502.2V503.95H10.9V502.2L13.7 504.7L10.9 507.2V505.45H6.5V507.2Z" fill="#0a0a0a"/>
<path d="M945.2 508.1H954.9V509.7H945.2Z" fill="#cdcdcd"/>
<path d="M946.2 510.5H954.2L950.2 514.3Z" fill="#a0a0a0"/>
<g fill="#3c9c79"><rect x="2.9" y="5.6" width="1.6" height="4.2"/><rect x="3.45" y="4.8" width="0.55" height="5.9"/><rect x="5.7" y="5.2" width="1.6" height="3.6"/><rect x="6.25" y="4.6" width="0.55" height="6.1"/><rect x="8.6" y="6.8" width="1.6" height="3.2"/><rect x="9.15" y="5.8" width="0.55" height="4.9"/></g>
<text x="14.2" y="10.7" font-size="7.8" fill="#47a081" textLength="15.1" lengthAdjust="spacingAndGlyphs">UBS</text>
<text x="31.5" y="10.7" font-size="7.8" fill="#47a081" textLength="11.3" lengthAdjust="spacingAndGlyphs">(Irl)</text>
<text x="45.0" y="10.7" font-size="7.8" fill="#47a081" textLength="14.1" lengthAdjust="spacingAndGlyphs">ETF</text>
<text x="61.3" y="10.7" font-size="7.8" fill="#47a081" textLength="10.0" lengthAdjust="spacingAndGlyphs">plc</text>
<text x="73.3" y="10.7" font-size="7.8" fill="#47a081" textLength="2.9" lengthAdjust="spacingAndGlyphs">-</text>
<text x="78.7" y="10.7" font-size="7.8" fill="#47a081" textLength="14.6" lengthAdjust="spacingAndGlyphs">UBS</text>
<text x="95.5" y="10.7" font-size="7.8" fill="#47a081" textLength="30.5" lengthAdjust="spacingAndGlyphs">Solactive</text>
<text x="128.2" y="10.7" font-size="7.8" fill="#47a081" textLength="22.1" lengthAdjust="spacingAndGlyphs">Global</text>
<text x="152.5" y="10.7" font-size="7.8" fill="#47a081" textLength="15.6" lengthAdjust="spacingAndGlyphs">Pure</text>
<text x="170.3" y="10.7" font-size="7.8" fill="#47a081" textLength="15.5" lengthAdjust="spacingAndGlyphs">Gold</text>
<text x="188.0" y="10.7" font-size="7.8" fill="#47a081" textLength="22.6" lengthAdjust="spacingAndGlyphs">Miners</text>
<text x="212.7" y="10.7" font-size="7.8" fill="#47a081" textLength="21.0" lengthAdjust="spacingAndGlyphs">UCITS</text>
<text x="236.5" y="10.7" font-size="7.8" fill="#47a081" textLength="13.3" lengthAdjust="spacingAndGlyphs">ETF,</text>
<text x="252.9" y="10.7" font-size="7.8" fill="#47a081" textLength="21.2" lengthAdjust="spacingAndGlyphs">Klasse</text>
<text x="277.2" y="10.7" font-size="7.8" fill="#47a081" textLength="13.6" lengthAdjust="spacingAndGlyphs">USD</text>
<text x="293.7" y="10.7" font-size="7.8" fill="#47a081" textLength="8.0" lengthAdjust="spacingAndGlyphs">dis</text>
<text x="305.9" y="10.7" font-size="7.8" fill="#47a081" textLength="18.2" lengthAdjust="spacingAndGlyphs">(L&amp;S,</text>
<text x="327.2" y="10.7" font-size="7.8" fill="#47a081" textLength="13.0" lengthAdjust="spacingAndGlyphs">Bid)</text>
<text x="344.0" y="10.8" font-size="8.1" fill="#bf4a66" textLength="32.8" lengthAdjust="spacingAndGlyphs">O: 12,502</text>
<text x="382.2" y="10.8" font-size="8.1" fill="#bf4a66" textLength="33.4" lengthAdjust="spacingAndGlyphs">H: 12,534</text>
<text x="420.2" y="10.8" font-size="8.1" fill="#bf4a66" textLength="31.5" lengthAdjust="spacingAndGlyphs">L: 12,210</text>
<text x="456.8" y="10.8" font-size="8.1" fill="#bf4a66" textLength="33.2" lengthAdjust="spacingAndGlyphs">C: 12,268</text>
<circle cx="6.9" cy="18.3" r="3.35" fill="none" stroke="#222" stroke-width="0.95"/>
<path d="M6.9 16.2V18.5L8.2 19.6" fill="none" stroke="#222" stroke-width="0.85"/>
<text x="15" y="21.2" font-size="8.1" fill="#2a2a2a" textLength="88.6" lengthAdjust="spacingAndGlyphs">13.05.2021 11:00 - 11:00</text>
<text x="109.8" y="21.2" font-size="8.1" fill="#2a2a2a" textLength="70.1" lengthAdjust="spacingAndGlyphs">(4 Jahre, 4 Stunden)</text>
<rect x="0" y="530.3" width="999" height="1.7" fill="#8cc443"/>
<rect x="997.7" y="0" width="1.3" height="530.2" fill="#000" fill-opacity="0.74"/>
</svg>
</body></html>
